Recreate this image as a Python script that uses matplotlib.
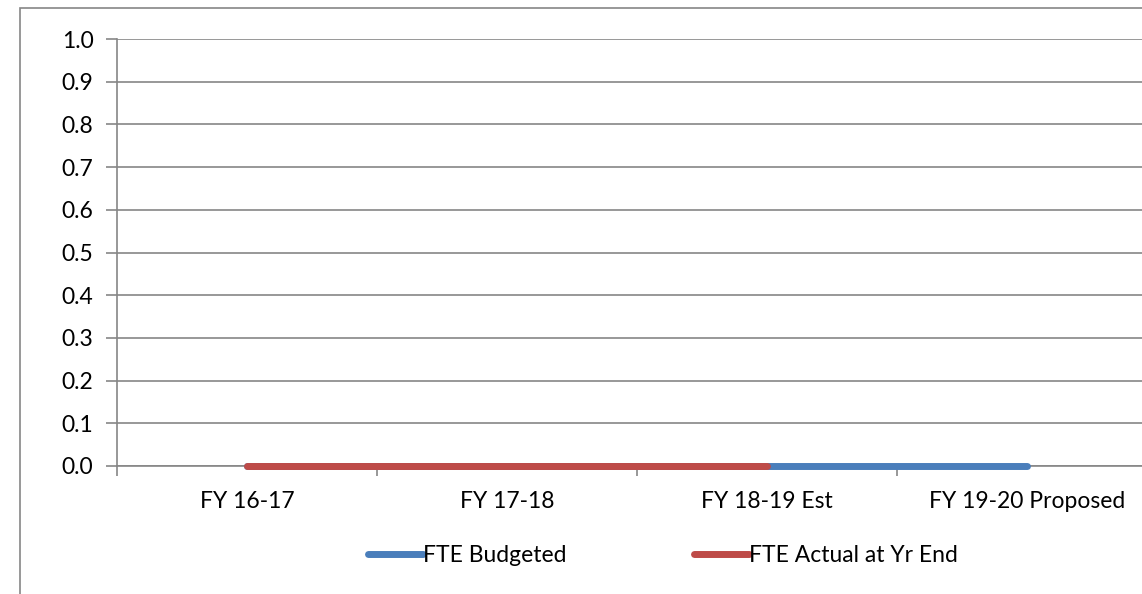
import numpy as np
import matplotlib.pyplot as plt
from matplotlib.lines import Line2D
from matplotlib.patches import Rectangle

# --- DATOS ---
categories = ['FY 16-17', 'FY 17-18', 'FY 18-19 Est', 'FY 19-20 Proposed']
fte_budgeted = [0.0, 0.0, 0.0, 0.0]
fte_actual = [0.0, 0.0, 0.0]   # sin dato para FY 19-20
y_ticks = np.round(np.arange(0, 1.01, 0.1), 1)

BLUE = '#4a7ebb'
RED = '#be4b48'
GRAY = '#868686'
FS = 16.5

plt.rcParams['font.family'] = ['Lato', 'DejaVu Sans']

fig = plt.figure(figsize=(11.42, 5.94), dpi=100)
# marco exterior del gráfico
fig.patches.append(Rectangle((20 / 1142, -0.1), 1.2, (594 - 8) / 594 + 0.1,
                             transform=fig.transFigure, fill=False,
                             edgecolor=GRAY, lw=1.2))

ax = fig.add_axes([117 / 1142, 128 / 594, 1040 / 1142, 427 / 594])
x = np.arange(len(categories))
ax.plot(x, fte_budgeted, color=BLUE, lw=5, solid_capstyle='round',
        zorder=3, clip_on=False)
ax.plot(x[:len(fte_actual)], fte_actual, color=RED, lw=5,
        solid_capstyle='round', zorder=4, clip_on=False)

ax.set_xlim(-0.5, len(categories) - 0.5)
ax.set_ylim(0, 1.0)
ax.set_yticks(y_ticks)
ax.set_yticklabels([f'{v:.1f}' for v in y_ticks], fontsize=FS)
ax.set_xticks(x)
ax.set_xticklabels(categories, fontsize=FS)
ax.set_xticks(np.arange(-0.5, len(categories)), minor=True)
ax.tick_params(axis='x', which='major', length=0, pad=18)
ax.tick_params(axis='x', which='minor', length=7, color=GRAY, width=1.2)
ax.tick_params(axis='y', length=8, color=GRAY, width=1.2, pad=9)

ax.grid(axis='y', color=GRAY, lw=1.2)
ax.set_axisbelow(True)
for s in ['top', 'right']:
    ax.spines[s].set_visible(False)
for s in ['left', 'bottom']:
    ax.spines[s].set_color(GRAY)
    ax.spines[s].set_linewidth(1.2)

handles = [Line2D([], [], color=BLUE, lw=5, solid_capstyle='round'),
           Line2D([], [], color=RED, lw=5, solid_capstyle='round')]
fig.legend(handles, ['FTE Budgeted', 'FTE Actual at Yr End'],
           loc='center', bbox_to_anchor=(663 / 1142, 1 - 556 / 594),
           ncol=2, frameon=False, fontsize=FS, handlelength=2.4,
           handletextpad=0.0, columnspacing=5.6)

fig.savefig('out.png', dpi=100)
